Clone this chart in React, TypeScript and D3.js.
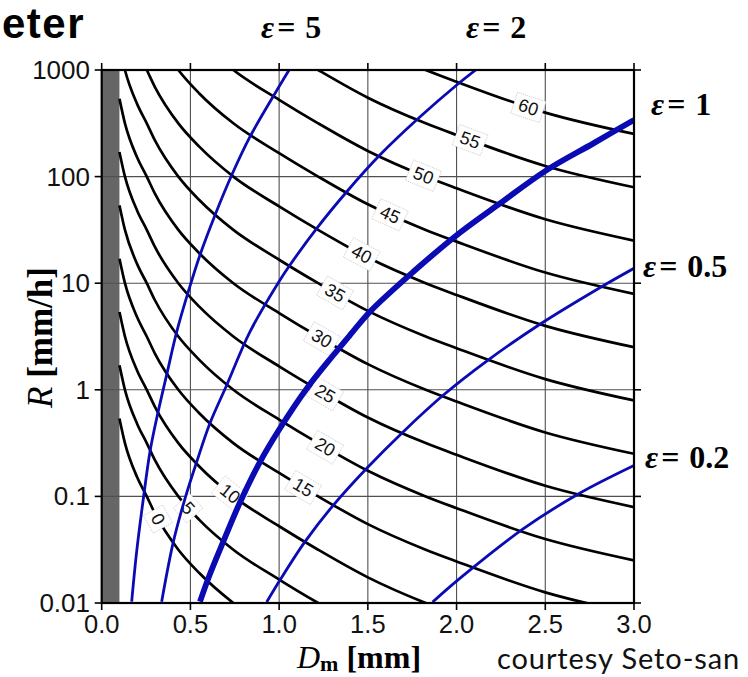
import React, { useEffect, useRef } from 'react';
import * as d3 from 'd3';

const W = 748;
const H = 677;

// axis ticks
const xTicks = [0, 0.5, 1.0, 1.5, 2.0, 2.5, 3.0];
const xTickLabels = ['0.0', '0.5', '1.0', '1.5', '2.0', '2.5', '3.0'];
const yTicks = [0.01, 0.1, 1, 10, 100, 1000];
const yTickLabels = ['0.01', '0.1', '1', '10', '100', '1000'];
const grayBand = [0, 0.1];

// black contours (reflectivity, dBZ): sampled Dm [mm] and R [mm/h]
const contourDm = [0.1, 0.131, 0.2, 0.254, 0.3, 0.432, 0.55, 0.742, 1.0, 1.22, 1.5, 1.826, 2.0, 2.5, 3.0];
const dbz0 = [0.537, 0.316, 0.151, 0.1, 0.0692, 0.0316, 0.0191, 0.01, 0.00525, 0.00316, 0.00174, 0.001, 0.000776, 0.000398, 0.000251];
const dbz5 = [1.698, 1, 0.4786, 0.3162, 0.2188, 0.1, 0.06026, 0.03162, 0.0166, 0.01, 0.005495, 0.003162, 0.002455, 0.001259, 0.000794];
const dbz10 = [5.37, 3.16, 1.51, 1, 0.692, 0.316, 0.191, 0.1, 0.0525, 0.0316, 0.0174, 0.01, 0.00776, 0.00398, 0.00251];
const dbz15 = [16.98, 10, 4.786, 3.162, 2.188, 1, 0.6026, 0.3162, 0.166, 0.1, 0.05495, 0.03162, 0.02455, 0.01259, 0.007943];
const dbz20 = [53.7, 31.6, 15.1, 10, 6.92, 3.16, 1.91, 1, 0.525, 0.316, 0.174, 0.1, 0.0776, 0.0398, 0.0251];
const dbz25 = [169.8, 100, 47.86, 31.62, 21.88, 10, 6.026, 3.162, 1.66, 1, 0.5495, 0.3162, 0.2455, 0.1259, 0.07943];
const dbz30 = [537, 316, 151, 100, 69.2, 31.6, 19.1, 10, 5.25, 3.16, 1.74, 1, 0.776, 0.398, 0.251];
const dbz35 = [1698, 1000, 478.6, 316.2, 218.8, 100, 60.26, 31.62, 16.6, 10, 5.495, 3.162, 2.455, 1.259, 0.7943];
const dbz40 = [5370, 3160, 1510, 1000, 692, 316, 191, 100, 52.5, 31.6, 17.4, 10, 7.76, 3.98, 2.51];
const dbz45 = [16980, 10000, 4786, 3162, 2188, 1000, 602.6, 316.2, 166, 100, 54.95, 31.62, 24.55, 12.59, 7.943];
const dbz50 = [53700, 31600, 15100, 10000, 6920, 3160, 1910, 1000, 525, 316, 174, 100, 77.6, 39.8, 25.1];
const dbz55 = [169800, 100000, 47860, 31620, 21880, 10000, 6026, 3162, 1660, 1000, 549.5, 316.2, 245.5, 125.9, 79.43];
const dbz60 = [537000, 316000, 151000, 100000, 69200, 31600, 19100, 10000, 5250, 3160, 1740, 1000, 776, 398, 251];
const dbzLabels = ['0', '5', '10', '15', '20', '25', '30', '35', '40', '45', '50', '55', '60'];
const dbzLabelDm = [0.317, 0.487, 0.723, 1.135, 1.259, 1.259, 1.24, 1.315, 1.465, 1.625, 1.813, 2.076, 2.405];

// blue epsilon lines
const eps5Dm = [0.169, 0.197, 0.235, 0.272, 0.31, 0.366, 0.423, 0.488, 0.554, 0.639, 0.733, 0.836, 1.005, 1.056];
const eps5R = [0.0103, 0.0303, 0.096, 0.262, 0.541, 1.38, 3.51, 8.32, 18.4, 43.7, 103.5, 237, 723, 1000];
const eps2Dm = [0.338, 0.404, 0.47, 0.536, 0.61, 0.705, 0.836, 1.005, 1.061, 1.212, 1.381, 1.569, 1.785, 2.001, 2.108];
const eps2R = [0.0103, 0.0376, 0.096, 0.212, 0.485, 1.11, 3.51, 10.7, 14.8, 32.7, 72.1, 160, 352, 723, 1000];
const eps1Dm = [0.554, 0.608, 0.685, 0.781, 0.893, 1.005, 1.156, 1.306, 1.4, 1.512, 1.756, 2.02, 2.245, 2.508, 2.771, 3.0];
const eps1R = [0.0103, 0.0183, 0.0376, 0.0891, 0.212, 0.436, 1.03, 2.12, 3.27, 5.41, 12.8, 29.9, 56.1, 115, 205, 340];
const eps05Dm = [0.93, 1.005, 1.146, 1.306, 1.494, 1.7, 1.926, 2.17, 2.47, 2.81, 3.0];
const eps05R = [0.0102, 0.0164, 0.0376, 0.083, 0.184, 0.405, 0.893, 1.86, 4.12, 9.12, 13.8];
const eps02Dm = [1.865, 2.02, 2.377, 2.696, 3.0];
const eps02R = [0.0102, 0.0171, 0.0498, 0.1076, 0.195];

const epsNames = ['5', '2', '1', '0.5', '0.2'];

export default function App() {
  const ref = useRef<SVGSVGElement | null>(null);

  useEffect(() => {
    const svg = d3.select(ref.current);
    svg.selectAll('*').remove();

    const left = 101.7, right = 634, top = 70, bottom = 603;
    const x = d3.scaleLinear().domain([0, 3]).range([left, right]);
    const y = d3.scaleLog().domain([0.01, 1000]).range([bottom, top]);

    const defs = svg.append('defs');
    defs.append('clipPath').attr('id', 'plotclip')
      .append('rect').attr('x', left).attr('y', top).attr('width', right - left).attr('height', bottom - top);

    // gray band
    svg.append('rect')
      .attr('x', x(grayBand[0])).attr('y', top)
      .attr('width', x(grayBand[1]) - x(grayBand[0])).attr('height', bottom - top)
      .attr('fill', '#666');

    // grid
    const grid = svg.append('g').attr('stroke', '#505050').attr('stroke-width', 1.1);
    xTicks.slice(1, -1).forEach(t => {
      grid.append('line').attr('x1', x(t)).attr('x2', x(t)).attr('y1', top).attr('y2', bottom);
    });
    yTicks.slice(1, -1).forEach(t => {
      grid.append('line').attr('x1', left).attr('x2', right).attr('y1', y(t)).attr('y2', y(t));
    });

    const contourLine = d3.line<[number, number]>()
      .x(d => x(d[0])).y(d => y(d[1]))
      .curve(d3.curveMonotoneX);
    const epsLine = d3.line<[number, number]>()
      .x(d => x(d[0])).y(d => y(d[1]))
      .curve(d3.curveCatmullRom.alpha(0.5));

    // contours
    const contourR = [dbz0, dbz5, dbz10, dbz15, dbz20, dbz25, dbz30, dbz35, dbz40, dbz45, dbz50, dbz55, dbz60];
    const plot = svg.append('g').attr('clip-path', 'url(#plotclip)');
    const contourPaths: SVGPathElement[] = [];
    contourR.forEach(rs => {
      const pts: [number, number][] = contourDm.map((d, i) => [d, rs[i]]);
      let first = pts.findIndex(p => p[1] <= 1000);
      first = Math.max(0, first - 1);
      let last = pts.length - 1;
      for (let i = 0; i < pts.length; i++) { if (pts[i][1] < 0.01) { last = i; break; } }
      const sub = pts.slice(first, last + 1);
      const p = plot.append('path').attr('d', contourLine(sub) as string)
        .attr('fill', 'none').attr('stroke', '#000').attr('stroke-width', 2.7);
      contourPaths.push(p.node() as SVGPathElement);
    });

    // contour labels
    const labG = svg.append('g');
    contourPaths.forEach((node, i) => {
      const tx = x(dbzLabelDm[i]);
      const L = node.getTotalLength();
      let lo = 0, hi = L;
      for (let k = 0; k < 40; k++) {
        const mid = (lo + hi) / 2;
        if (node.getPointAtLength(mid).x < tx) lo = mid; else hi = mid;
      }
      const pt = node.getPointAtLength(lo);
      const a = node.getPointAtLength(Math.max(0, lo - 3));
      const b = node.getPointAtLength(Math.min(L, lo + 3));
      const ang = Math.atan2(b.y - a.y, b.x - a.x) * 180 / Math.PI;
      const g = labG.append('g').attr('transform', `translate(${pt.x},${pt.y}) rotate(${ang})`);
      const rect = g.append('rect');
      const t = g.append('text')
        .attr('text-anchor', 'middle').attr('dominant-baseline', 'central')
        .attr('font-family', 'Liberation Sans, Arial, sans-serif').attr('font-size', 18)
        .attr('fill', '#111').text(dbzLabels[i]);
      const tw = (t.node() as SVGTextElement).getComputedTextLength();
      rect.attr('x', -tw / 2 - 5).attr('y', -11).attr('width', tw + 10).attr('height', 22)
        .attr('fill', '#fff').attr('stroke', '#bbb').attr('stroke-width', 0.7).attr('stroke-dasharray', '1,1');
    });

    // epsilon lines
    const epsSets: [number[], number[], number][] = [
      [eps5Dm, eps5R, 2.8], [eps2Dm, eps2R, 2.8], [eps1Dm, eps1R, 5.8], [eps05Dm, eps05R, 2.8], [eps02Dm, eps02R, 2.8],
    ];
    const blue = svg.append('g').attr('clip-path', 'url(#plotclip)');
    epsSets.forEach(([dm, rr, sw]) => {
      const pts: [number, number][] = dm.map((d, i) => [d, rr[i]]);
      blue.append('path').attr('d', epsLine(pts) as string)
        .attr('fill', 'none').attr('stroke', '#0b0bb4').attr('stroke-width', sw);
    });

    // frame
    svg.append('rect').attr('x', left).attr('y', top).attr('width', right - left).attr('height', bottom - top)
      .attr('fill', 'none').attr('stroke', '#000').attr('stroke-width', 2.2);

    // ticks
    const ticks = svg.append('g').attr('stroke', '#000').attr('stroke-width', 1.6);
    xTicks.forEach(t => {
      ticks.append('line').attr('x1', x(t)).attr('x2', x(t)).attr('y1', bottom).attr('y2', bottom + 7);
      ticks.append('line').attr('x1', x(t)).attr('x2', x(t)).attr('y1', top).attr('y2', top - 7);
    });
    yTicks.forEach(t => {
      ticks.append('line').attr('x1', left).attr('x2', left - 7).attr('y1', y(t)).attr('y2', y(t));
      ticks.append('line').attr('x1', right).attr('x2', right + 7).attr('y1', y(t)).attr('y2', y(t));
    });

    const tl = svg.append('g').attr('font-family', 'Liberation Sans, Arial, sans-serif').attr('fill', '#111');
    xTicks.forEach((t, i) => {
      tl.append('text').attr('x', x(t)).attr('y', 633).attr('font-size', 25.5).attr('text-anchor', 'middle').text(xTickLabels[i]);
    });
    yTicks.forEach((t, i) => {
      tl.append('text').attr('x', 90).attr('y', y(t) + 9).attr('font-size', 26).attr('text-anchor', 'end').text(yTickLabels[i]);
    });

    // axis titles
    const serif = 'Liberation Serif, Times New Roman, serif';
    const xt = svg.append('text').attr('x', 297).attr('y', 668).attr('font-family', serif).attr('font-size', 32).attr('fill', '#000');
    xt.append('tspan').attr('font-style', 'italic').text('D');
    xt.append('tspan').attr('font-weight', 'bold').attr('font-size', 22).attr('dy', 3).text('m');
    xt.append('tspan').attr('font-weight', 'bold').attr('font-size', 32).attr('dy', -3).text(' [mm]');

    const yt = svg.append('text').attr('transform', 'translate(52,408) rotate(-90)').attr('font-family', serif).attr('font-size', 35).attr('fill', '#000');
    yt.append('tspan').attr('font-style', 'italic').text('R');
    yt.append('tspan').attr('font-weight', 'bold').text(' [mm/h]');

    // epsilon labels
    const epsPos: [number, number][] = [[261, 38], [466, 38], [651, 115], [643, 277], [645, 468]];
    epsNames.forEach((n, i) => {
      const t = svg.append('text').attr('x', epsPos[i][0]).attr('y', epsPos[i][1])
        .attr('font-family', serif).attr('font-size', 32).attr('font-weight', 'bold').attr('fill', '#000');
      t.append('tspan').attr('font-style', 'italic').text('ε');
      t.append('tspan').attr('dx', 3).text('=');
      t.append('tspan').attr('dx', 2).text(' ' + n);
    });

    svg.append('text').attr('x', 2).attr('y', 38).attr('font-family', 'Liberation Sans, Arial, sans-serif')
      .attr('font-weight', 'bold').attr('font-size', 42).attr('letter-spacing', 1.5).attr('fill', '#000').text('eter');

    svg.append('text').attr('x', 497).attr('y', 669).attr('font-family', 'Lato, Open Sans, sans-serif')
      .attr('font-size', 29).attr('letter-spacing', 0.9).attr('fill', '#111').text('courtesy Seto-san');
  }, []);

  return (
    <svg ref={ref} width={W} height={H} style={{ position: 'absolute', left: 0, top: 0, background: '#fff' }} />
  );
}
